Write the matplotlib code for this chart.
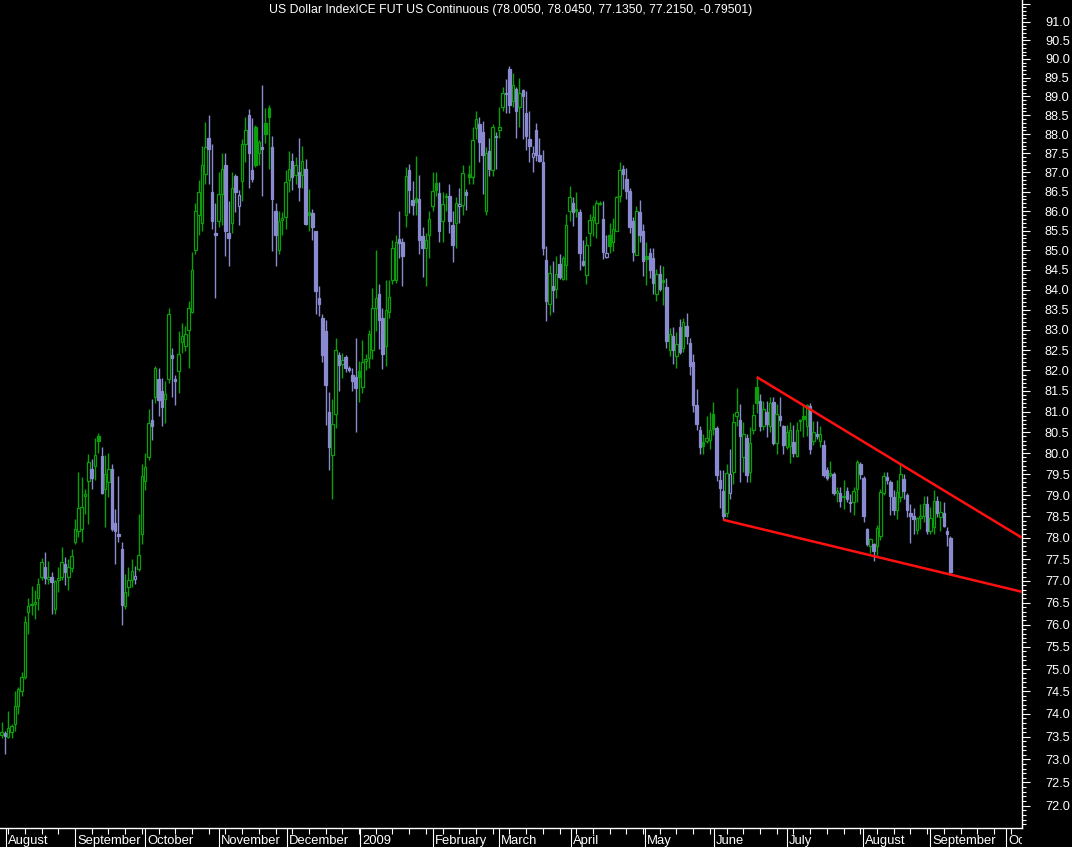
import numpy as np
import matplotlib
matplotlib.use("Agg")
import matplotlib.pyplot as plt
from matplotlib import font_manager
from matplotlib.ticker import FixedLocator, NullFormatter, FuncFormatter
from matplotlib.transforms import blended_transform_factory, Bbox, TransformedBbox

# ---------------- data (daily bars) ----------------
opens = [
    73.54, 73.58, 73.50, 73.60, 73.78, 74.18, 74.50, 74.83, 76.30, 76.44,
    76.48, 76.60, 77.08, 77.33, 77.05, 77.08, 76.35, 77.02, 77.08, 77.38,
    77.08, 77.30, 77.90, 78.17, 78.20, 78.98, 79.33, 79.63, 79.68, 80.42,
    79.93, 79.15, 79.30, 79.63, 78.34, 78.10, 77.75, 76.42, 76.85, 77.03,
    77.05, 77.28, 78.08, 79.33, 79.90, 80.80, 81.36, 81.78, 81.50, 81.30,
    81.78, 82.38, 81.80, 81.98, 82.70, 82.60, 83.00, 83.45, 85.00, 85.90,
    85.70, 86.95, 87.90, 86.50, 85.45, 85.75, 86.45, 87.20, 85.45, 85.70,
    86.90, 86.12, 86.78, 87.73, 88.50, 87.05, 88.20, 87.50, 87.65, 88.30,
    88.70, 87.66, 86.00, 85.00, 85.78, 85.85, 86.80, 87.30, 86.93, 87.00,
    86.93, 87.10, 85.98, 85.95, 85.48, 83.80, 83.30, 82.97, 81.00, 79.95,
    80.95, 82.38, 82.15, 82.33, 82.05, 81.90, 81.85, 81.98, 81.60, 82.22,
    82.30, 82.50, 83.55, 83.90, 83.30, 82.60, 83.45, 84.25, 84.25, 85.28,
    85.20, 85.90, 87.05, 86.28, 86.33, 86.30, 85.37, 85.05, 85.40, 86.12,
    86.72, 86.47, 85.75, 86.35, 86.40, 85.65, 85.70, 86.12, 86.15, 86.50,
    86.95, 86.88, 88.15, 88.28, 88.05, 86.00, 87.55, 87.05, 87.95, 88.10,
    88.72, 89.08, 89.72, 88.88, 89.20, 88.72, 89.17, 88.57, 87.86, 87.40,
    88.10, 87.45, 87.27, 84.75, 83.65, 84.10, 84.02, 84.65, 84.27, 84.62,
    86.00, 86.20, 86.05, 85.98, 84.72, 84.37, 85.45, 85.78, 85.70, 86.18,
    85.80, 84.83, 85.38, 85.20, 85.50, 86.40, 87.10, 86.82, 86.53, 85.75,
    84.88, 85.97, 85.50, 84.85, 84.92, 84.80, 83.90, 84.40, 84.25, 84.07,
    82.50, 82.85, 82.35, 83.08, 82.55, 83.10, 82.68, 82.20, 81.15, 80.55,
    80.26, 80.30, 80.32, 80.95, 80.60, 79.35, 79.10, 78.58, 79.05, 79.55,
    80.90, 80.80, 79.90, 80.35, 79.55, 80.56, 81.60, 81.25, 80.65, 81.00,
    80.65, 81.22, 80.25, 80.90, 80.66, 80.15, 80.18, 80.27, 79.92, 80.76,
    80.90, 80.64, 81.13, 80.28, 80.45, 80.28, 80.20, 79.60, 79.47, 79.50,
    79.05, 79.05, 78.95, 79.10, 78.85, 78.85, 79.15, 79.75, 79.40, 78.20,
    77.80, 77.85, 77.80, 78.05, 79.05, 79.43, 79.32, 78.96, 78.66, 78.96,
    79.38, 79.00, 78.57, 78.50, 78.19, 78.46, 78.50, 78.78, 78.17, 78.26,
    78.87, 78.49, 78.58, 78.17, 78.005,
]
highs = [
    73.83, 73.62, 74.07, 73.78, 74.50, 74.59, 74.93, 76.19, 76.62, 76.88,
    76.79, 77.06, 77.52, 77.66, 77.45, 77.20, 77.03, 77.32, 77.79, 77.56,
    77.50, 77.75, 78.45, 79.55, 79.43, 79.14, 79.97, 79.85, 80.35, 80.47,
    80.14, 79.95, 80.00, 79.73, 78.67, 79.45, 77.90, 77.17, 77.33, 77.50,
    77.35, 78.56, 79.73, 80.00, 81.07, 81.30, 82.10, 82.05, 81.82, 81.75,
    83.55, 82.55, 81.90, 82.97, 83.17, 83.10, 83.72, 84.95, 86.20, 86.80,
    87.70, 88.33, 88.50, 87.73, 86.20, 87.00, 87.50, 87.50, 86.25, 87.00,
    86.95, 86.55, 87.86, 88.46, 88.67, 88.43, 88.25, 87.85, 89.30, 88.70,
    88.76, 87.96, 86.20, 86.00, 85.97, 87.05, 87.55, 87.50, 87.40, 87.90,
    87.68, 87.35, 86.57, 86.05, 85.48, 84.10, 83.40, 83.25, 81.48, 81.30,
    82.80, 82.45, 82.43, 82.38, 82.10, 82.05, 82.80, 82.23, 82.75, 82.40,
    83.00, 84.05, 85.00, 84.15, 83.55, 84.25, 84.25, 85.25, 85.40, 86.00,
    85.30, 87.14, 87.23, 86.77, 87.44, 86.92, 85.60, 85.45, 86.00, 87.02,
    87.02, 86.75, 86.48, 86.47, 86.70, 86.00, 86.35, 86.60, 87.18, 86.58,
    87.20, 88.20, 88.60, 88.45, 88.35, 87.66, 87.90, 88.27, 88.05, 88.72,
    89.24, 89.45, 89.80, 89.63, 89.25, 89.50, 89.20, 89.15, 88.60, 87.68,
    88.30, 87.90, 87.58, 85.10, 84.62, 84.72, 84.85, 84.90, 84.85, 85.92,
    86.64, 86.36, 86.50, 86.05, 85.27, 85.35, 85.92, 86.15, 86.28, 86.25,
    86.26, 85.40, 85.70, 85.82, 86.38, 87.27, 87.20, 87.11, 86.60, 85.85,
    86.12, 86.28, 85.67, 85.20, 85.05, 85.05, 84.52, 84.62, 84.59, 84.29,
    83.05, 83.08, 82.95, 83.27, 83.30, 83.41, 82.80, 82.40, 81.55, 80.65,
    80.45, 80.88, 81.00, 81.24, 80.65, 79.60, 79.60, 79.75, 80.10, 80.97,
    81.58, 81.17, 80.74, 80.45, 80.62, 81.19, 81.84, 81.43, 81.26, 81.26,
    81.36, 81.36, 81.19, 81.34, 80.68, 80.68, 80.74, 80.68, 80.74, 80.83,
    81.14, 81.19, 81.20, 80.78, 80.78, 80.66, 80.31, 79.66, 79.80, 79.55,
    79.20, 79.20, 79.36, 79.20, 79.03, 79.20, 79.83, 79.78, 79.45, 78.22,
    78.00, 77.88, 78.30, 79.15, 79.55, 79.55, 79.36, 79.12, 79.36, 79.73,
    79.50, 79.05, 78.80, 78.70, 78.49, 78.78, 78.98, 78.98, 78.73, 79.12,
    78.98, 78.87, 78.85, 78.26, 78.045,
]
lows = [
    73.46, 73.13, 73.46, 73.46, 73.62, 74.00, 74.40, 74.78, 75.79, 76.21,
    76.12, 76.33, 77.03, 76.94, 76.92, 76.24, 76.24, 76.74, 77.03, 76.90,
    76.80, 77.20, 77.85, 78.03, 77.90, 78.56, 78.33, 79.15, 79.36, 80.00,
    79.03, 78.26, 78.96, 78.15, 77.40, 77.90, 76.00, 76.35, 76.65, 76.87,
    76.94, 77.22, 77.85, 79.12, 79.83, 80.31, 81.20, 80.90, 80.66, 80.73,
    81.70, 81.34, 81.15, 81.46, 82.43, 82.48, 82.06, 83.43, 84.90, 85.40,
    85.50, 86.70, 86.70, 85.55, 83.80, 85.60, 85.65, 84.85, 84.60, 85.45,
    85.97, 85.65, 86.25, 87.27, 86.60, 86.76, 87.15, 87.20, 86.40, 87.77,
    87.10, 84.97, 84.60, 84.90, 85.40, 85.55, 86.50, 86.55, 86.70, 86.25,
    86.60, 85.65, 85.50, 85.27, 83.40, 83.35, 82.20, 80.68, 79.60, 78.90,
    80.60, 81.50, 81.82, 81.95, 81.95, 81.50, 80.50, 81.24, 81.46, 82.00,
    82.06, 82.27, 82.97, 82.52, 82.04, 82.12, 83.30, 84.15, 84.17, 84.80,
    84.10, 85.60, 85.95, 85.90, 85.90, 84.90, 84.33, 84.10, 84.80, 86.00,
    86.40, 85.22, 85.20, 86.00, 85.45, 84.70, 85.05, 85.70, 85.90, 86.03,
    86.70, 86.70, 87.86, 87.26, 86.45, 85.90, 86.90, 86.90, 87.10, 87.90,
    88.60, 88.55, 88.56, 88.72, 87.90, 88.20, 87.86, 87.58, 87.27, 87.00,
    87.30, 87.27, 84.87, 83.22, 83.36, 83.45, 83.80, 84.28, 84.24, 84.24,
    85.75, 85.63, 85.85, 84.51, 84.59, 84.14, 85.10, 85.37, 85.30, 86.15,
    84.77, 84.80, 84.92, 84.97, 85.48, 86.24, 86.58, 86.31, 85.43, 84.72,
    84.87, 85.20, 84.34, 84.12, 84.29, 83.90, 83.72, 83.97, 83.62, 82.55,
    82.35, 82.17, 82.05, 82.40, 82.45, 82.65, 81.90, 81.00, 80.55, 79.97,
    79.97, 80.25, 80.10, 80.43, 79.34, 78.70, 78.42, 78.49, 78.90, 79.27,
    80.66, 79.30, 79.55, 79.30, 79.32, 80.45, 80.97, 80.52, 80.56, 80.38,
    80.50, 80.20, 79.97, 80.66, 79.97, 80.10, 79.76, 79.90, 79.90, 80.52,
    80.38, 80.40, 79.97, 80.20, 80.33, 80.14, 79.43, 79.36, 79.43, 79.00,
    78.85, 78.72, 78.67, 78.85, 78.60, 78.53, 78.85, 79.38, 78.38, 77.80,
    77.65, 77.46, 77.60, 77.95, 79.00, 79.27, 78.53, 78.53, 78.43, 78.85,
    78.91, 78.49, 77.88, 78.10, 78.10, 78.20, 78.38, 78.10, 78.08, 78.08,
    78.49, 78.15, 78.26, 77.80, 77.135,
]
closes = [
    73.60, 73.52, 73.70, 73.74, 74.18, 74.55, 74.83, 76.07, 76.42, 76.47,
    76.52, 76.92, 77.43, 77.06, 77.10, 76.98, 77.00, 77.06, 77.43, 77.20,
    77.33, 77.58, 78.20, 78.70, 78.73, 79.03, 79.78, 79.40, 79.95, 80.28,
    79.05, 79.50, 79.62, 78.20, 78.15, 78.05, 76.45, 76.74, 77.03, 77.24,
    77.12, 77.60, 79.45, 79.67, 80.72, 80.65, 82.05, 81.27, 81.10, 81.42,
    83.40, 82.30, 81.74, 82.40, 82.85, 82.90, 83.55, 84.50, 86.00, 86.50,
    87.20, 87.65, 87.60, 85.75, 85.40, 86.45, 87.10, 85.50, 85.30, 86.60,
    86.48, 86.42, 87.75, 88.10, 87.50, 86.82, 87.20, 87.80, 87.62, 88.00,
    88.45, 86.30, 85.40, 85.75, 85.82, 86.75, 87.10, 86.87, 87.20, 86.62,
    87.30, 85.68, 85.90, 85.60, 83.98, 83.65, 82.37, 81.65, 80.15, 80.70,
    82.50, 82.13, 82.25, 82.05, 82.02, 81.75, 81.58, 81.85, 82.20, 82.27,
    82.90, 83.55, 83.80, 83.25, 82.40, 83.50, 83.82, 85.05, 85.22, 85.18,
    84.85, 86.90, 86.55, 86.15, 86.23, 85.27, 85.05, 85.27, 85.80, 86.52,
    86.55, 85.50, 86.18, 86.40, 85.75, 85.12, 86.20, 86.17, 86.98, 86.42,
    86.88, 87.85, 88.40, 87.80, 87.45, 87.50, 87.10, 88.20, 87.93, 88.20,
    89.10, 89.05, 88.78, 89.30, 88.62, 89.10, 89.02, 87.95, 87.70, 87.50,
    87.45, 87.30, 85.05, 83.72, 84.43, 84.00, 84.40, 84.33, 84.80, 85.65,
    86.36, 85.98, 86.00, 84.93, 84.62, 85.12, 85.77, 85.85, 86.20, 86.22,
    84.95, 84.92, 85.10, 85.55, 86.36, 87.05, 86.97, 86.51, 85.60, 84.95,
    86.00, 85.38, 84.72, 84.78, 84.50, 84.18, 84.40, 84.02, 84.20, 82.72,
    82.90, 82.50, 82.65, 82.45, 83.20, 82.85, 82.10, 81.15, 80.70, 80.14,
    80.16, 80.37, 80.56, 80.58, 79.47, 79.18, 78.50, 79.53, 79.50, 80.75,
    81.00, 80.42, 80.45, 79.48, 80.25, 80.92, 81.20, 80.65, 81.07, 80.70,
    81.20, 80.25, 80.95, 80.80, 80.20, 80.50, 80.55, 80.00, 80.55, 80.80,
    80.82, 81.15, 80.10, 80.50, 80.40, 80.45, 79.47, 79.40, 79.52, 79.05,
    79.10, 78.87, 78.98, 78.90, 78.82, 79.10, 79.78, 79.50, 78.50, 77.85,
    77.97, 77.70, 78.22, 79.07, 79.45, 79.36, 78.98, 78.66, 79.07, 79.50,
    79.10, 78.66, 78.52, 78.45, 78.47, 78.50, 78.80, 78.17, 78.47, 78.87,
    78.57, 78.60, 78.28, 78.10, 77.215,
]

# month boundaries (bar positions) and their labels
month_pos = [1.2, 22.0, 42.9, 65.1, 85.4, 107.2, 129.1, 148.8, 170.4,
             192.5, 213.1, 235.0, 257.7, 278.0, 300.5]
month_labels = ["August", "September", "October", "November", "December",
                "2009", "February", "March", "April", "May", "June", "July",
                "August", "September", "October"]

# trend lines (bar position, price)
upper_x = [226, 305.4]
upper_y = [81.84, 78.0]
lower_x = [216, 305.4]
lower_y = [78.42, 76.75]

y_major = [round(72.0 + 0.5 * k, 1) for k in range(40)]   # 72.0 .. 91.5
title = "US Dollar IndexICE FUT US Continuous (78.0050, 78.0450, 77.1350, 77.2150, -0.79501)"

# ---------------- styling ----------------
GREEN = "#0aa00a"
LAV = "#8a8ad0"
RED = "#ff1010"
W, H = 1072, 847

names = {f.name for f in font_manager.fontManager.ttflist}
base_font = "Liberation Sans" if "Liberation Sans" in names else "DejaVu Sans"
narrow_font = "Liberation Sans Narrow" if "Liberation Sans Narrow" in names else base_font

fig = plt.figure(figsize=(W / 100, H / 100), dpi=100, facecolor="black")
ax = fig.add_axes([0, 19 / H, 1022 / W, 828 / H], facecolor="black")

o = np.array(opens); h = np.array(highs); l = np.array(lows); c = np.array(closes)
h = np.maximum(h, np.maximum(o, c))
l = np.minimum(l, np.minimum(o, c))
n = len(c)
x = np.arange(n)
prev = np.concatenate([[c[0] - 1], c[:-1]])
col = np.where(c >= prev, GREEN, LAV)
hollow = c >= o
face = np.where(hollow, "black", col)

ax.vlines(x, l, h, colors=col, linewidth=1.0, zorder=2)
ax.bar(x, np.abs(c - o), bottom=np.minimum(o, c), width=0.74,
       color=face, edgecolor=col, linewidth=0.9, zorder=3)

ax.plot(upper_x, upper_y, color=RED, linewidth=1.8, zorder=4, solid_capstyle="butt")
ax.plot(lower_x, lower_y, color=RED, linewidth=1.8, zorder=4, solid_capstyle="butt")

ax.set_yscale("log")
ax.set_ylim(71.52, 91.6)
ax.set_xlim(-0.45, 305.4)

ax.yaxis.tick_right()
ax.yaxis.set_major_locator(FixedLocator(y_major))
ax.yaxis.set_minor_locator(FixedLocator([71.6 + 0.1 * k for k in range(200)]))
ax.yaxis.set_major_formatter(FuncFormatter(lambda v, p: "" if v > 91.2 else f"{v:.1f}"))
ax.yaxis.set_minor_formatter(NullFormatter())
ax.tick_params(axis="y", which="major", direction="out", length=5.5, width=0.8,
               color="white", labelcolor="white", pad=11, labelsize=9.2)
ax.tick_params(axis="y", which="minor", direction="out", length=3, width=0.8, color="white")
for t in ax.get_yticklabels():
    t.set_fontfamily(base_font)

ax.xaxis.set_major_locator(FixedLocator(month_pos))
ax.xaxis.set_minor_locator(FixedLocator(list(np.arange(2, 305, 5))))
ax.xaxis.set_major_formatter(NullFormatter())
ax.xaxis.set_minor_formatter(NullFormatter())
ax.tick_params(axis="x", which="major", direction="out", length=14, width=0.8, color="white")
ax.tick_params(axis="x", which="minor", direction="out", length=4, width=0.8, color="white")

for s in ["left", "top"]:
    ax.spines[s].set_visible(False)
for s in ["right", "bottom"]:
    ax.spines[s].set_color("white")
    ax.spines[s].set_linewidth(1.0)

trans = blended_transform_factory(ax.transData, fig.transFigure)
clipbox = TransformedBbox(Bbox([[0, 0], [1022 / W, 1]]), fig.transFigure)
for p, lab in zip(month_pos, month_labels):
    t = ax.text(p + 0.7, 3.5 / H, lab, transform=trans, ha="left", va="baseline",
                color="white", fontsize=9.4, fontfamily=narrow_font, clip_on=True)
    t.set_clip_box(clipbox)

fig.text(511 / W, 1 - 10.5 / H, title, ha="center", va="center", color="white",
         fontsize=8.8, fontfamily=base_font)

fig.savefig("out.png", dpi=100, facecolor="black")
